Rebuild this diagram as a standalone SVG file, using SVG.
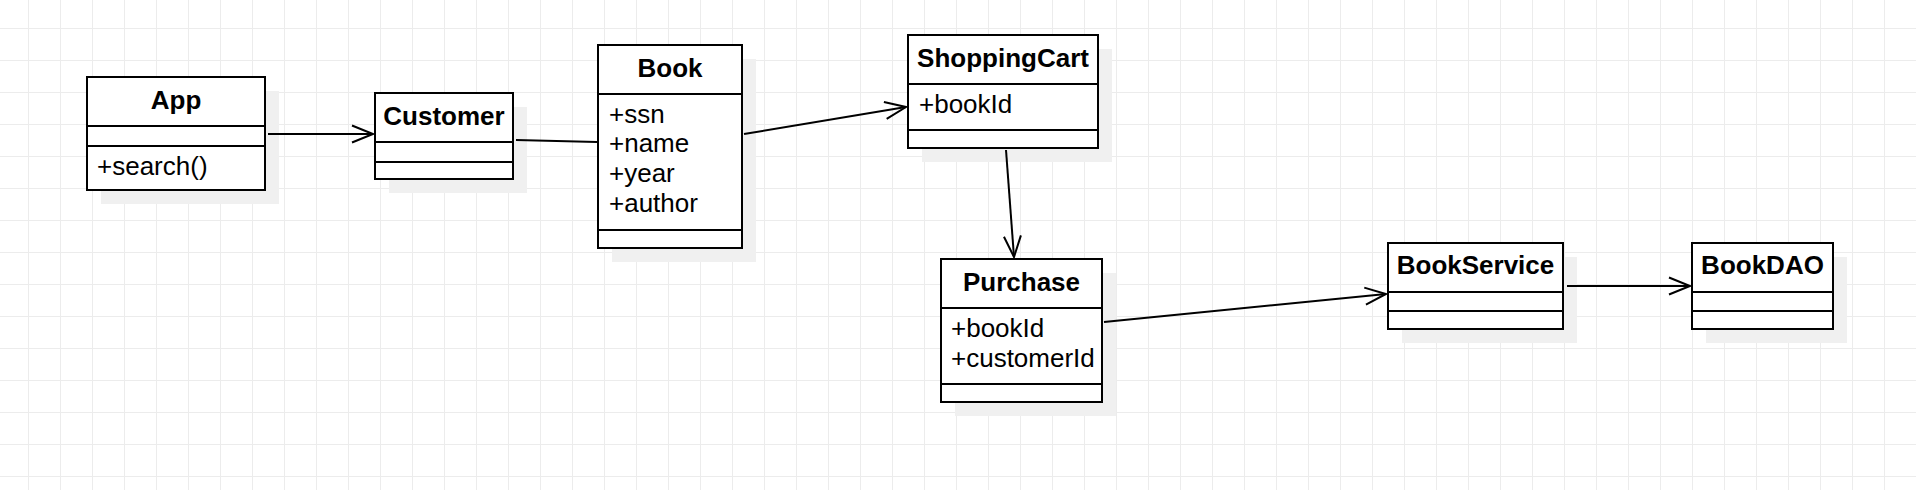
<svg xmlns="http://www.w3.org/2000/svg" width="1916" height="490" viewBox="0 0 1916 490">
<defs>
<pattern id="grid" x="28" y="28" width="32" height="32" patternUnits="userSpaceOnUse">
<path d="M0.5 0 V32 M0 0.5 H32" fill="none" stroke="#ececec" stroke-width="1"/>
</pattern>
<marker id="open" markerUnits="userSpaceOnUse" markerWidth="26" markerHeight="22" refX="21" refY="9" orient="auto" overflow="visible">
<path d="M0,0.5 L21,9 L0,17.5" fill="none" stroke="#000" stroke-width="2"/>
</marker>
<style>
.shadow{fill:#f0f0f0;stroke:none}
.box{fill:#fff;stroke:#000;stroke-width:2}
.div{stroke:#000;stroke-width:2}
.title{font-family:"Liberation Sans",Arial,sans-serif;font-weight:bold;font-size:26px;text-anchor:middle;fill:#000}
.field{font-family:"Liberation Sans",Arial,sans-serif;font-size:26px;fill:#000}
.conn{fill:none;stroke:#000;stroke-width:2}
</style>
</defs>
<rect width="1916" height="490" fill="#fff"/>
<rect width="1916" height="490" fill="url(#grid)"/>

<g id="App">
<rect class="shadow" x="101" y="91" width="178" height="113"/>
<rect class="box" x="87" y="77" width="178" height="113"/>
<line class="div" x1="87" y1="126" x2="265" y2="126"/>
<line class="div" x1="87" y1="146" x2="265" y2="146"/>
<text class="title" x="176" y="109">App</text>
<text class="field" x="97" y="175">+search()</text>
</g>

<g id="Customer">
<rect class="shadow" x="389" y="107" width="138" height="86"/>
<rect class="box" x="375" y="93" width="138" height="86"/>
<line class="div" x1="375" y1="142" x2="513" y2="142"/>
<line class="div" x1="375" y1="162" x2="513" y2="162"/>
<text class="title" x="444" y="125">Customer</text>
</g>

<g id="Book">
<rect class="shadow" x="612" y="59" width="144" height="203"/>
<rect class="box" x="598" y="45" width="144" height="203"/>
<line class="div" x1="598" y1="94" x2="742" y2="94"/>
<line class="div" x1="598" y1="230" x2="742" y2="230"/>
<text class="title" x="670" y="77">Book</text>
<text class="field" x="609" y="123">+ssn</text>
<text class="field" x="609" y="152">+name</text>
<text class="field" x="609" y="182">+year</text>
<text class="field" x="609" y="212">+author</text>
</g>

<g id="ShoppingCart">
<rect class="shadow" x="922" y="49" width="190" height="113"/>
<rect class="box" x="908" y="35" width="190" height="113"/>
<line class="div" x1="908" y1="84" x2="1098" y2="84"/>
<line class="div" x1="908" y1="130" x2="1098" y2="130"/>
<text class="title" x="1003" y="67">ShoppingCart</text>
<text class="field" x="919" y="113">+bookId</text>
</g>

<g id="Purchase">
<rect class="shadow" x="955" y="273" width="161" height="143"/>
<rect class="box" x="941" y="259" width="161" height="143"/>
<line class="div" x1="941" y1="308" x2="1102" y2="308"/>
<line class="div" x1="941" y1="384" x2="1102" y2="384"/>
<text class="title" x="1021.5" y="291">Purchase</text>
<text class="field" x="951" y="337">+bookId</text>
<text class="field" x="951" y="367">+customerId</text>
</g>

<g id="BookService">
<rect class="shadow" x="1402" y="257" width="175" height="86"/>
<rect class="box" x="1388" y="243" width="175" height="86"/>
<line class="div" x1="1388" y1="292" x2="1563" y2="292"/>
<line class="div" x1="1388" y1="311" x2="1563" y2="311"/>
<text class="title" x="1475.5" y="274">BookService</text>
</g>

<g id="BookDAO">
<rect class="shadow" x="1706" y="257" width="141" height="86"/>
<rect class="box" x="1692" y="243" width="141" height="86"/>
<line class="div" x1="1692" y1="292" x2="1833" y2="292"/>
<line class="div" x1="1692" y1="311" x2="1833" y2="311"/>
<text class="title" x="1762.5" y="274">BookDAO</text>
</g>

<g id="connectors">
<line class="conn" x1="268" y1="134" x2="373" y2="134" marker-end="url(#open)"/>
<line class="conn" x1="516" y1="140" x2="597" y2="142"/>
<line class="conn" x1="744" y1="134" x2="906" y2="107" marker-end="url(#open)"/>
<line class="conn" x1="1006" y1="150" x2="1014" y2="257" marker-end="url(#open)"/>
<line class="conn" x1="1104" y1="322" x2="1386" y2="294" marker-end="url(#open)"/>
<line class="conn" x1="1567" y1="286" x2="1690" y2="286" marker-end="url(#open)"/>
</g>
</svg>
